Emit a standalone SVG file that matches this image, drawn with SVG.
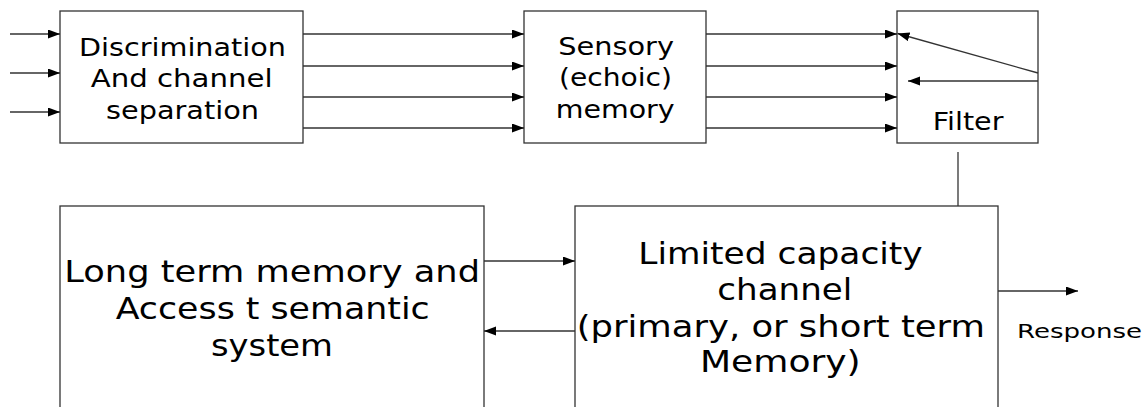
<svg xmlns="http://www.w3.org/2000/svg" width="1148" height="407" viewBox="0 0 1148 407">
<style>
.box{fill:#fff;stroke:#333;stroke-width:1.3}
.ln{fill:none;stroke:#333;stroke-width:1.3}
.t{font-family:"DejaVu Sans",Verdana,sans-serif;fill:#000}
.s25{font-size:25px}
.s30{font-size:30px}
.s20{font-size:20px}
</style>
<defs>
<marker id="ah" markerUnits="userSpaceOnUse" markerWidth="12" markerHeight="10" refX="12" refY="4.5" orient="auto">
<path d="M0,0 L12,4.5 L0,9 Z" fill="#000"/>
</marker>
</defs>
<rect width="1148" height="407" fill="#fff"/>
<g id="node-discrimination">
<rect class="box" x="60" y="11" width="243" height="132"/>
<text class="t s25" x="79" y="56" textLength="207" lengthAdjust="spacingAndGlyphs">Discrimination</text>
<text class="t s25" x="90.7" y="87.3" textLength="182" lengthAdjust="spacingAndGlyphs">And channel</text>
<text class="t s25" x="106" y="118.5" textLength="153" lengthAdjust="spacingAndGlyphs">separation</text>
</g>
<g id="node-sensory">
<rect class="box" x="524" y="11" width="182" height="132"/>
<text class="t s25" x="558.3" y="55" textLength="115.7" lengthAdjust="spacingAndGlyphs">Sensory</text>
<text class="t s25" x="559" y="86" textLength="113" lengthAdjust="spacingAndGlyphs">(echoic)</text>
<text class="t s25" x="555.7" y="118" textLength="119" lengthAdjust="spacingAndGlyphs">memory</text>
</g>
<g id="node-filter">
<rect class="box" x="897" y="11" width="141" height="132"/>
<text class="t s25" x="932.7" y="130" textLength="70.7" lengthAdjust="spacingAndGlyphs">Filter</text>
</g>
<g id="node-ltm">
<rect class="box" x="60" y="206" width="424" height="230"/>
<text class="t s30" x="64.3" y="281.7" textLength="415.7" lengthAdjust="spacingAndGlyphs">Long term memory and</text>
<text class="t s30" x="115.7" y="319.3" textLength="314" lengthAdjust="spacingAndGlyphs">Access t semantic</text>
<text class="t s30" x="211" y="356" textLength="122" lengthAdjust="spacingAndGlyphs">system</text>
</g>
<g id="node-limited">
<rect class="box" x="575" y="206" width="423" height="230"/>
<text class="t s30" x="638.3" y="264" textLength="284.4" lengthAdjust="spacingAndGlyphs">Limited capacity</text>
<text class="t s30" x="717.3" y="300" textLength="135" lengthAdjust="spacingAndGlyphs">channel</text>
<text class="t s30" x="576.7" y="336.7" textLength="408.3" lengthAdjust="spacingAndGlyphs">(primary, or short term</text>
<text class="t s30" x="700" y="372" textLength="160.7" lengthAdjust="spacingAndGlyphs">Memory)</text>
</g>
<g id="label-response">
<text class="t s20" x="1017" y="337.5" textLength="125" lengthAdjust="spacingAndGlyphs">Response</text>
</g>
<g id="connectors">
<line class="ln" x1="10" y1="34" x2="60" y2="34" marker-end="url(#ah)"/>
<line class="ln" x1="10" y1="73" x2="60" y2="73" marker-end="url(#ah)"/>
<line class="ln" x1="10" y1="112" x2="60" y2="112" marker-end="url(#ah)"/>
<line class="ln" x1="303" y1="34" x2="524" y2="34" marker-end="url(#ah)"/>
<line class="ln" x1="303" y1="66" x2="524" y2="66" marker-end="url(#ah)"/>
<line class="ln" x1="303" y1="97" x2="524" y2="97" marker-end="url(#ah)"/>
<line class="ln" x1="303" y1="128" x2="524" y2="128" marker-end="url(#ah)"/>
<line class="ln" x1="706" y1="34" x2="897" y2="34" marker-end="url(#ah)"/>
<line class="ln" x1="706" y1="66" x2="897" y2="66" marker-end="url(#ah)"/>
<line class="ln" x1="706" y1="97" x2="897" y2="97" marker-end="url(#ah)"/>
<line class="ln" x1="706" y1="128" x2="897" y2="128" marker-end="url(#ah)"/>
<line class="ln" x1="1038" y1="73" x2="897.5" y2="33.5" marker-end="url(#ah)"/>
<line class="ln" x1="1038" y1="81" x2="908" y2="81" marker-end="url(#ah)"/>
<line class="ln" x1="958" y1="152" x2="958" y2="206"/>
<line class="ln" x1="484" y1="261" x2="575" y2="261" marker-end="url(#ah)"/>
<line class="ln" x1="575" y1="331" x2="484" y2="331" marker-end="url(#ah)"/>
<line class="ln" x1="998" y1="291" x2="1078" y2="291" marker-end="url(#ah)"/>
</g>
</svg>
